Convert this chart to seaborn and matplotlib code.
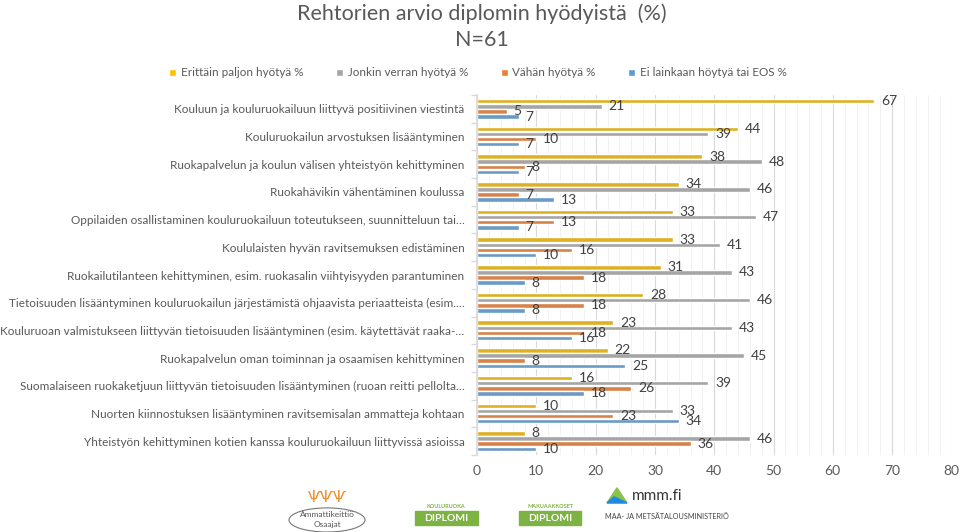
import numpy as np
import pandas as pd
import matplotlib.pyplot as plt
import seaborn as sns
from matplotlib.patches import Patch, Ellipse, Rectangle, Polygon
from matplotlib.ticker import MultipleLocator

# kohdat ylhäältä alas
categories = [
    "Kouluun ja kouluruokailuun liittyvä positiivinen viestintä",
    "Kouluruokailun arvostuksen lisääntyminen",
    "Ruokapalvelun ja koulun välisen yhteistyön kehittyminen",
    "Ruokahävikin vähentäminen koulussa",
    "Oppilaiden osallistaminen kouluruokailuun toteutukseen, suunnitteluun tai…",
    "Koululaisten hyvän ravitsemuksen edistäminen",
    "Ruokailutilanteen kehittyminen, esim. ruokasalin viihtyisyyden parantuminen",
    "Tietoisuuden lisääntyminen kouluruokailun järjestämistä ohjaavista periaatteista (esim.…",
    "Kouluruoan valmistukseen liittyvän tietoisuuden lisääntyminen (esim. käytettävät raaka-…",
    "Ruokapalvelun oman toiminnan ja osaamisen kehittyminen",
    "Suomalaiseen ruokaketjuun liittyvän tietoisuuden lisääntyminen (ruoan reitti pellolta…",
    "Nuorten kiinnostuksen lisääntyminen ravitsemisalan ammatteja kohtaan",
    "Yhteistyön kehittyminen kotien kanssa kouluruokailuun liittyvissä asioissa",
]
erittain = [67, 44, 38, 34, 33, 33, 31, 28, 23, 22, 16, 10, 8]
jonkin = [21, 39, 48, 46, 47, 41, 43, 46, 43, 45, 39, 33, 46]
vahan = [5, 10, 8, 7, 13, 16, 18, 18, 18, 8, 26, 23, 36]
ei_lainkaan = [7, 7, 7, 13, 7, 10, 8, 8, 16, 25, 18, 34, 10]

series = ["Erittäin paljon hyötyä %", "Jonkin verran hyötyä %",
          "Vähän hyötyä %", "Ei lainkaan höytyä tai EOS %"]
colors = ["#FFC000", "#A5A5A5", "#ED7D31", "#5B9BD5"]

df = pd.DataFrame({"Kohta": categories,
                   series[0]: erittain, series[1]: jonkin,
                   series[2]: vahan, series[3]: ei_lainkaan})
long = df.melt(id_vars="Kohta", var_name="Sarja", value_name="Osuus")

sns.set_theme(style="white")
plt.rcParams['font.family'] = ['Lato', 'DejaVu Sans']

fig = plt.figure(figsize=(9.6, 5.32), dpi=100)
ax = fig.add_axes([0.497, 0.1447, 0.494, 0.6767])

sns.barplot(data=long, y="Kohta", x="Osuus", hue="Sarja", order=categories,
            hue_order=series, palette=colors, orient="h", width=0.74, gap=0.12,
            ax=ax, legend=False, errorbar=None)

for c in ax.containers:
    ax.bar_label(c, padding=5, fontsize=10, color="#404040")

ax.set_xlim(0, 80)
ax.set_xticks(range(0, 81, 10))
ax.xaxis.set_minor_locator(MultipleLocator(2))
ax.grid(axis="x", which="major", color="#D9D9D9", lw=0.8)
ax.grid(axis="x", which="minor", color="#EFEFEF", lw=0.6)
ax.set_axisbelow(True)
ax.set_xlabel("")
ax.set_ylabel("")

for s in ["top", "right", "bottom"]:
    ax.spines[s].set_visible(False)
ax.spines["left"].set_color("#D9D9D9")

ax.set_yticks(np.arange(-0.5, len(categories), 1), minor=True)
ax.tick_params(axis="y", which="major", length=0, pad=9, labelsize=8.5, labelcolor="#595959")
ax.tick_params(axis="y", which="minor", length=4, color="#D9D9D9", left=True)
ax.tick_params(axis="x", which="both", length=0, pad=7, labelsize=10, labelcolor="#595959")

# otsikko
fig.text(0.502, 0.975, "Rehtorien arvio diplomin hyödyistä  (%)", ha="center", va="center",
         fontsize=15.5, color="#595959")
fig.text(0.502, 0.924, "N=61", ha="center", va="center",
         fontsize=15.5, color="#595959")

handles = [Patch(facecolor=c, label=s) for c, s in zip(colors, series)]
fig.legend(handles=handles, loc="center", bbox_to_anchor=(0.498, 0.863), ncol=4,
           frameon=False, fontsize=8.4, labelcolor="#595959", handlelength=0.6,
           handleheight=0.6, handletextpad=0.4, columnspacing=2.8)

# logot (yksinkertaistetut)
fa = fig.add_axes([0, 0, 1, 0.1], facecolor="none")
fa.set_xlim(0, 960)
fa.set_ylim(53, 0)
fa.axis("off")
fa.add_patch(Ellipse((327, 41), 76, 24, fill=False, ec="#777777", lw=0.8))
fa.text(327, 36, "Ammattikeittiö", ha="center", va="center", fontsize=6, color="#555555")
fa.text(327, 46, "Osaajat", ha="center", va="center", fontsize=6, color="#555555")
fa.text(327, 19, "ѰѰѰ", ha="center", va="center", fontsize=11, color="#F08A24",
        family="DejaVu Sans")
fa.add_patch(Rectangle((415, 32), 63, 14, color="#7CB342"))
fa.text(446, 28, "KOULURUOKA", ha="center", va="center", fontsize=4, color="#7CB342",
        fontweight="bold")
fa.text(446, 40, "DIPLOMI", ha="center", va="center", fontsize=7.5, color="white",
        fontweight="bold")
fa.add_patch(Rectangle((519, 32), 62, 14, color="#7CB342"))
fa.text(550, 28, "MAKUAAKKOSET", ha="center", va="center", fontsize=4, color="#7CB342",
        fontweight="bold")
fa.text(550, 40, "DIPLOMI", ha="center", va="center", fontsize=7.5, color="white",
        fontweight="bold")
fa.add_patch(Polygon([(607, 24), (617, 9), (627, 24)], color="#8BC34A"))
fa.add_patch(Polygon([(607, 24), (614, 18), (627, 24)], color="#1E88E5"))
fa.text(632, 17, "mmm.fi", ha="left", va="center", fontsize=11, color="#333333")
fa.text(605, 38, "MAA- JA METSÄTALOUSMINISTERIÖ", ha="left", va="center",
        fontsize=5.2, color="#444444")

fig.savefig("out.png", dpi=100)
